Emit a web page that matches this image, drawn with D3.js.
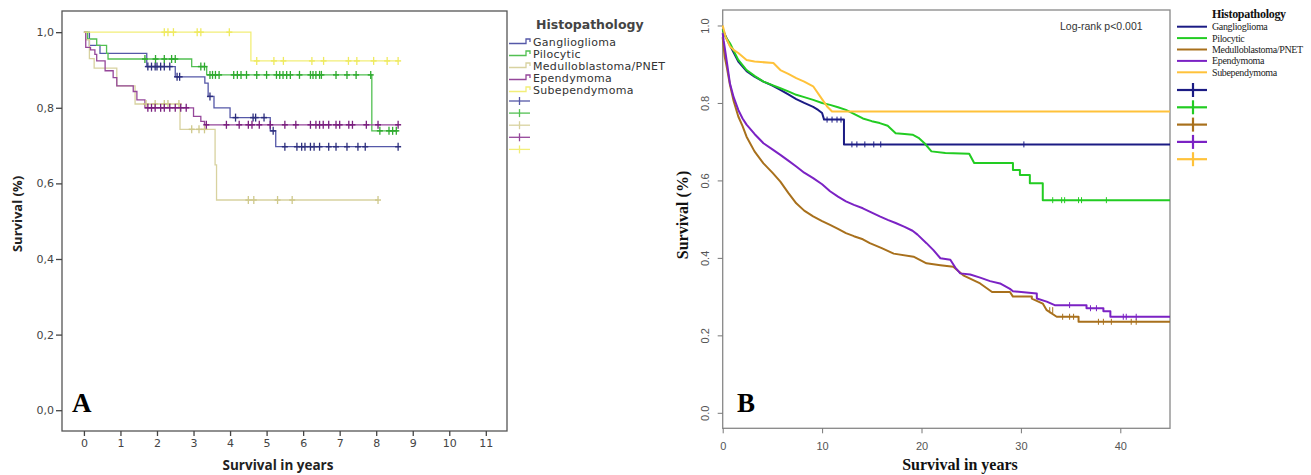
<!DOCTYPE html>
<html>
<head>
<meta charset="utf-8">
<script src="https://cdn.jsdelivr.net/npm/d3@7"></script>
<style>
  body { margin: 0; background: #fff; }
  svg { display: block; }
</style>
</head>
<body>
<div id="chart"></div>
<script>
// ---- data ----
const groups = ["Ganglioglioma", "Pilocytic", "Medulloblastoma/PNET", "Ependymoma", "Subependymoma"];

// Panel A: step points [years, survival], last point = end of follow-up
const aGanglioglioma = [[0,1],[0.15,0.965],[0.44,0.944],[1.72,0.909],[2.5,0.882],[3.31,0.865],[3.4,0.83],[3.56,0.80],[4.0,0.774],[5.1,0.739],[5.25,0.697],[8.6,0.697]];
const aPilocytic = [[0,1],[0.1,0.982],[0.35,0.965],[0.62,0.944],[0.66,0.929],[2.95,0.909],[3.36,0.887],[7.88,0.739],[8.6,0.739]];
const aMedullo = [[0,1],[0.05,0.98],[0.15,0.93],[0.28,0.905],[0.9,0.858],[1.4,0.81],[2.63,0.743],[3.59,0.649],[3.63,0.556],[8.05,0.556]];
const aEpendymoma = [[0,1],[0.05,0.96],[0.18,0.953],[0.3,0.941],[0.35,0.924],[0.58,0.898],[0.8,0.88],[0.9,0.858],[1.35,0.843],[1.45,0.821],[1.67,0.80],[3.0,0.777],[3.2,0.764],[3.3,0.755],[8.6,0.755]];
const aSubependymoma = [[0,1],[4.57,0.924],[8.6,0.924]];

// Panel A censored times
const aCensGanglioglioma = [1.75,1.85,1.95,2.0,2.1,2.2,2.35,2.55,2.62,3.45,4.15,4.63,4.7,4.93,5.18,5.5,5.83,5.96,6.05,6.2,6.3,6.45,6.7,6.9,7.2,7.5,7.7,8.6];
const aCensPilocytic = [1.67,1.96,2.2,2.4,2.5,3.2,3.3,3.45,3.52,3.6,3.7,4.1,4.2,4.3,4.45,4.73,5.0,5.27,5.36,5.45,5.55,5.65,5.9,6.2,6.27,6.35,6.45,6.5,6.9,7.2,7.45,7.85,8.1,8.35,8.45,8.55];
const aCensMedullo = [1.7,1.95,2.2,2.3,2.6,2.95,3.15,3.3,4.5,4.65,5.3,5.7,8.05];
const aCensEpendymoma = [1.75,1.85,1.95,2.1,2.2,2.35,2.5,2.65,2.8,3.35,3.9,4.25,4.5,4.6,4.8,5.1,5.5,5.8,6.2,6.35,6.45,6.55,6.7,6.9,7.0,7.25,7.35,7.73,8.05,8.6];
const aCensSubependymoma = [2.2,2.3,2.45,3.1,3.2,3.98,4.73,5.2,5.46,6.24,6.56,7.24,7.47,7.93,8.3,8.6];

// Panel B: traced curve points [years, survival] (dense small steps read as a polyline)
const bGanglioglioma = [[0,0.99],[0.5,0.96],[1,0.935],[1.57,0.907],[2.4,0.882],[3.2,0.868],[4.1,0.855],[5,0.845],[5.8,0.834],[6.6,0.822],[7.4,0.81],[8.2,0.80],[9.1,0.79],[9.6,0.782],[10,0.774],[10.2,0.757],[12.2,0.757],[12.2,0.693],[45,0.693]];
const bPilocytic = [[0,0.99],[0.3,0.97],[0.73,0.954],[1.2,0.93],[1.57,0.911],[2.4,0.885],[3.2,0.87],[4.1,0.855],[5,0.846],[5.8,0.838],[6.6,0.83],[7.4,0.821],[8.2,0.815],[9.1,0.808],[10,0.80],[10.8,0.795],[11.6,0.789],[12.4,0.782],[13.2,0.772],[14.1,0.76],[15,0.753],[15.8,0.748],[16.6,0.741],[17.4,0.722],[18.3,0.72],[19.1,0.718],[19.7,0.71],[20.3,0.696],[21,0.675],[22.4,0.671],[24.8,0.669],[25.3,0.645],[29.2,0.645],[29.2,0.627],[29.9,0.627],[29.9,0.614],[30.9,0.614],[30.9,0.593],[32.2,0.593],[32.2,0.549],[45,0.549]];
const bMedullo = [[0,0.97],[0.07,0.95],[0.2,0.92],[0.4,0.894],[0.73,0.847],[1.1,0.805],[1.57,0.765],[2.0,0.74],[2.4,0.713],[3.2,0.675],[4.1,0.644],[5,0.62],[5.8,0.597],[6.6,0.568],[7.4,0.541],[8.2,0.522],[9.1,0.507],[10,0.495],[10.8,0.485],[11.6,0.475],[12.4,0.464],[13.2,0.456],[14.1,0.448],[14.8,0.438],[16,0.425],[17.2,0.411],[19.2,0.403],[20.5,0.386],[21.9,0.381],[23.2,0.377],[24.2,0.355],[25.9,0.334],[27.1,0.312],[28.9,0.312],[29.2,0.3],[31.1,0.3],[31.1,0.295],[32.2,0.282],[32.6,0.265],[33.6,0.248],[35.8,0.248],[35.8,0.235],[45,0.235]];
const bEpendymoma = [[0,0.98],[0.1,0.96],[0.24,0.937],[0.45,0.9],[0.73,0.85],[1.1,0.815],[1.57,0.782],[2.0,0.76],[2.4,0.744],[3.2,0.72],[4.1,0.696],[5,0.68],[5.8,0.666],[6.6,0.651],[7.4,0.636],[8.2,0.62],[9.1,0.606],[10,0.59],[10.8,0.572],[11.6,0.558],[12.4,0.546],[13.2,0.537],[14.1,0.528],[15,0.517],[15.8,0.507],[16.6,0.498],[17.4,0.49],[18.3,0.48],[19.1,0.47],[19.6,0.46],[20.5,0.438],[21.2,0.42],[21.9,0.399],[22.9,0.395],[23.4,0.375],[23.9,0.36],[24.9,0.357],[25.9,0.349],[26.9,0.34],[27.9,0.334],[28.9,0.32],[29.2,0.314],[31.6,0.308],[31.6,0.295],[32.6,0.287],[33.4,0.278],[36.6,0.278],[36.6,0.27],[38.3,0.27],[38.3,0.262],[39,0.262],[39,0.248],[45,0.248]];
const bSubependymoma = [[0,1],[0.3,0.97],[0.73,0.946],[1.2,0.935],[1.57,0.929],[2.4,0.911],[3.2,0.907],[5.1,0.903],[5.8,0.885],[6.6,0.875],[7.4,0.864],[8.2,0.855],[9.1,0.843],[9.8,0.817],[10.5,0.791],[11,0.778],[45,0.778]];

const bCensGanglioglioma = [10.5,11,11.5,11.9,13,13.5,14.3,15.2,15.9,30.3];
const bCensPilocytic = [33.2,34.1,34.4,35.8,36.1,38.6];
const bCensMedullo = [32.9,33.2,34.2,34.9,35.3,37.8,38.3,39.1,41.1,41.6];
const bCensEpendymoma = [34.9,37,37.6,40.3,40.6,41.6];
const bCensSubependymoma = [];

const aYTicks = [0, 0.2, 0.4, 0.6, 0.8, 1.0];
const aXTicks = d3.range(0, 12);
const bYTicks = [0, 0.2, 0.4, 0.6, 0.8, 1.0];
const bXTicks = [0, 10, 20, 30, 40];

// ---- setup ----
const W = 1311, H = 475;
const svg = d3.select('#chart').append('svg')
    .attr('width', W)
    .attr('height', H);

// survival at time t: value of the last point at or before t
function survAt(series, t) {
  let s = series[0][1];
  for (const p of series) { if (p[0] <= t) s = p[1]; }
  return s;
}

// ===== Panel A (SPSS style) =====
{
  const colA = ["#5558a8", "#52c052", "#d8d2a0", "#95479a", "#f2ee78"];
  const censA = ["#2d2f7e", "#2faa2f", "#cfc98c", "#7a1f7e", "#efea60"];
  const seriesA = [aGanglioglioma, aPilocytic, aMedullo, aEpendymoma, aSubependymoma];
  const censorsA = [aCensGanglioglioma, aCensPilocytic, aCensMedullo, aCensEpendymoma, aCensSubependymoma];
  const sans = "'DejaVu Sans', Verdana, sans-serif";

  const left = 62, right = 507, top = 11, bottom = 431;
  const x = d3.scaleLinear().domain([-0.6, 11.58]).range([left, right]);
  const y = d3.scaleLinear().domain([-0.055, 1.056]).range([bottom, top]);

  const g = svg.append('g').attr('class', 'panel-a');

  // frame
  g.append('rect')
      .attr('x', left).attr('y', top)
      .attr('width', right - left).attr('height', bottom - top)
      .attr('fill', 'none').attr('stroke', '#555').attr('stroke-width', 1.3);

  const yAxis = d3.axisLeft(y).tickValues(aYTicks).tickSize(6).tickPadding(2)
      .tickFormat(d => d3.format('.1f')(d).replace('.', ','));
  g.append('g').attr('transform', `translate(${left},0)`).call(yAxis)
      .call(s => s.select('.domain').remove())
      .call(s => s.selectAll('line').attr('stroke', '#444').attr('stroke-width', 1.3))
      .call(s => s.selectAll('text').attr('fill', '#444').style('font-family', sans).style('font-size', '11px'));

  const xAxis = d3.axisBottom(x).tickValues(aXTicks).tickSize(5).tickPadding(3);
  g.append('g').attr('transform', `translate(0,${bottom})`).call(xAxis)
      .call(s => s.select('.domain').remove())
      .call(s => s.selectAll('line').attr('stroke', '#444').attr('stroke-width', 1.3))
      .call(s => s.selectAll('text').attr('fill', '#444').style('font-family', sans).style('font-size', '11px'));

  const line = d3.line().x(d => x(d[0])).y(d => y(d[1])).curve(d3.curveStepAfter);

  seriesA.forEach((s, i) => {
    g.append('path')
        .attr('d', line(s))
        .attr('fill', 'none')
        .attr('stroke', colA[i])
        .attr('stroke-width', 1.3);
  });

  censorsA.forEach((c, i) => {
    g.append('g').selectAll('line')
      .data(c)
      .join('line')
        .attr('x1', d => x(d)).attr('x2', d => x(d))
        .attr('y1', d => y(survAt(seriesA[i], d)) - 4)
        .attr('y2', d => y(survAt(seriesA[i], d)) + 4)
        .attr('stroke', censA[i])
        .attr('stroke-width', 1.3);
    g.append('g').selectAll('line')
      .data(c)
      .join('line')
        .attr('x1', d => x(d) - 3).attr('x2', d => x(d) + 3)
        .attr('y1', d => y(survAt(seriesA[i], d)))
        .attr('y2', d => y(survAt(seriesA[i], d)))
        .attr('stroke', censA[i])
        .attr('stroke-width', 1.5);
  });

  // axis titles
  g.append('text')
      .attr('transform', `translate(22,214) rotate(-90)`)
      .attr('text-anchor', 'middle')
      .style('font-family', "'Open Sans', sans-serif").style('font-weight', 'bold').style('font-size', '13px')
      .attr('fill', '#222')
      .text('Survival (%)');
  g.append('text')
      .attr('x', 278).attr('y', 470)
      .attr('text-anchor', 'middle')
      .style('font-family', "'Open Sans', sans-serif").style('font-weight', 'bold').style('font-size', '13.5px')
      .attr('fill', '#222')
      .text('Survival in years');

  // panel letter
  g.append('text')
      .attr('x', 72).attr('y', 412)
      .style('font-family', "'Liberation Serif', 'Times New Roman', serif")
      .style('font-weight', 'bold').style('font-size', '27px')
      .text('A');

  // legend
  const lg = g.append('g').attr('transform', 'translate(509,0)');
  lg.append('text')
      .attr('x', 27).attr('y', 29)
      .style('font-family', sans).style('font-weight', 'bold').style('font-size', '12.5px')
      .attr('fill', '#444')
      .text('Histopathology');
  groups.forEach((name, i) => {
    const yy = 42 + i * 12;
    lg.append('path')
        .attr('d', `M0,${yy + 1.5}H17V${yy - 3}H21V${yy}`)
        .attr('fill', 'none').attr('stroke', colA[i]).attr('stroke-width', 1.3);
    lg.append('text')
        .attr('x', 24).attr('y', yy + 4)
        .style('font-family', sans).style('font-size', '11px').style('letter-spacing', '0.3px')
        .attr('fill', '#333')
        .text(name);
    const cy = 101 + i * 12.1;
    lg.append('line').attr('x1', 0).attr('x2', 21).attr('y1', cy).attr('y2', cy)
        .attr('stroke', colA[i]).attr('stroke-width', 1.3);
    lg.append('line').attr('x1', 10.5).attr('x2', 10.5).attr('y1', cy - 4).attr('y2', cy + 4)
        .attr('stroke', colA[i]).attr('stroke-width', 1.3);
  });
}

// ===== Panel B (R style) =====
{
  const colB = ["#1b1b84", "#22cc22", "#a8701c", "#7b22c4", "#ffc23a"];
  const seriesB = [bGanglioglioma, bPilocytic, bMedullo, bEpendymoma, bSubependymoma];
  const censorsB = [bCensGanglioglioma, bCensPilocytic, bCensMedullo, bCensEpendymoma, bCensSubependymoma];
  const serif = "'Liberation Serif', 'Times New Roman', serif";
  const arial = "'Liberation Sans', Arial, sans-serif";

  const left = 722.7, right = 1170, top = 10, bottom = 428.3;
  const x = d3.scaleLinear().domain([0, 45]).range([left, right]);
  const y = d3.scaleLinear().domain([-0.04, 1.04]).range([bottom, top]);

  const g = svg.append('g').attr('class', 'panel-b');

  g.append('rect')
      .attr('x', left).attr('y', top)
      .attr('width', right - left).attr('height', bottom - top)
      .attr('fill', 'none').attr('stroke', '#888').attr('stroke-width', 1.3);

  const yAxis = d3.axisLeft(y).tickValues(bYTicks).tickSize(5).tickPadding(8)
      .tickFormat(d3.format('.1f'));
  g.append('g').attr('transform', `translate(${left},0)`).call(yAxis)
      .call(s => s.select('.domain').remove())
      .call(s => s.selectAll('line').attr('stroke', '#777'))
      .call(s => s.selectAll('text')
        .attr('fill', '#555').style('font-family', arial).style('font-size', '11px')
        .attr('text-anchor', 'middle').attr('dy', null)
        .attr('transform', 'translate(-18,0) rotate(-90)')
        .attr('x', 0).attr('y', 4));

  const xAxis = d3.axisBottom(x).tickValues(bXTicks).tickSize(5).tickPadding(9);
  g.append('g').attr('transform', `translate(0,${bottom})`).call(xAxis)
      .call(s => s.select('.domain').remove())
      .call(s => s.selectAll('line').attr('stroke', '#777'))
      .call(s => s.selectAll('text').attr('fill', '#555').style('font-family', arial).style('font-size', '11px'));

  const line = d3.line().x(d => x(d[0])).y(d => y(d[1]));

  seriesB.forEach((s, i) => {
    g.append('path')
        .attr('d', line(s))
        .attr('fill', 'none')
        .attr('stroke', colB[i])
        .attr('stroke-width', 2)
        .attr('stroke-linejoin', 'round');
  });

  censorsB.forEach((c, i) => {
    g.append('g').selectAll('line')
      .data(c)
      .join('line')
        .attr('x1', d => x(d)).attr('x2', d => x(d))
        .attr('y1', d => y(survAt(seriesB[i], d)) - 3)
        .attr('y2', d => y(survAt(seriesB[i], d)) + 3)
        .attr('stroke', colB[i])
        .attr('stroke-width', 1);
  });

  g.append('text')
      .attr('x', 1060).attr('y', 30)
      .style('font-family', arial).style('font-size', '10.5px')
      .attr('fill', '#333')
      .text('Log-rank p<0.001');

  g.append('text')
      .attr('transform', `translate(688,215) rotate(-90)`)
      .attr('text-anchor', 'middle')
      .style('font-family', serif).style('font-weight', 'bold').style('font-size', '16px')
      .attr('fill', '#111')
      .text('Survival (%)');
  g.append('text')
      .attr('x', 960).attr('y', 470)
      .attr('text-anchor', 'middle')
      .style('font-family', serif).style('font-weight', 'bold').style('font-size', '16px')
      .attr('fill', '#111')
      .text('Survival in years');

  g.append('text')
      .attr('x', 737).attr('y', 412)
      .style('font-family', serif)
      .style('font-weight', 'bold').style('font-size', '27px')
      .text('B');

  // legend
  const lg = g.append('g').attr('transform', 'translate(1177,0)');
  lg.append('text')
      .attr('x', 35).attr('y', 18)
      .style('font-family', serif).style('font-weight', 'bold').style('font-size', '12px')
      .style('letter-spacing', '-0.3px')
      .attr('fill', '#111')
      .text('Histopathology');
  groups.forEach((name, i) => {
    const yy = 26.7 + i * 11.4;
    lg.append('line').attr('x1', 0).attr('x2', 30).attr('y1', yy).attr('y2', yy)
        .attr('stroke', colB[i]).attr('stroke-width', 2);
    lg.append('text')
        .attr('x', 35).attr('y', yy + 3.5)
        .style('font-family', serif).style('font-size', '10px')
        .style('letter-spacing', '-0.35px')
        .attr('fill', '#222')
        .text(name);
    const cy = 90 + i * 17.3;
    lg.append('line').attr('x1', 0).attr('x2', 30).attr('y1', cy).attr('y2', cy)
        .attr('stroke', colB[i]).attr('stroke-width', 2.2);
    lg.append('line').attr('x1', 16).attr('x2', 16).attr('y1', cy - 7).attr('y2', cy + 7)
        .attr('stroke', colB[i]).attr('stroke-width', 2.2);
  });
}
</script>
</body>
</html>
